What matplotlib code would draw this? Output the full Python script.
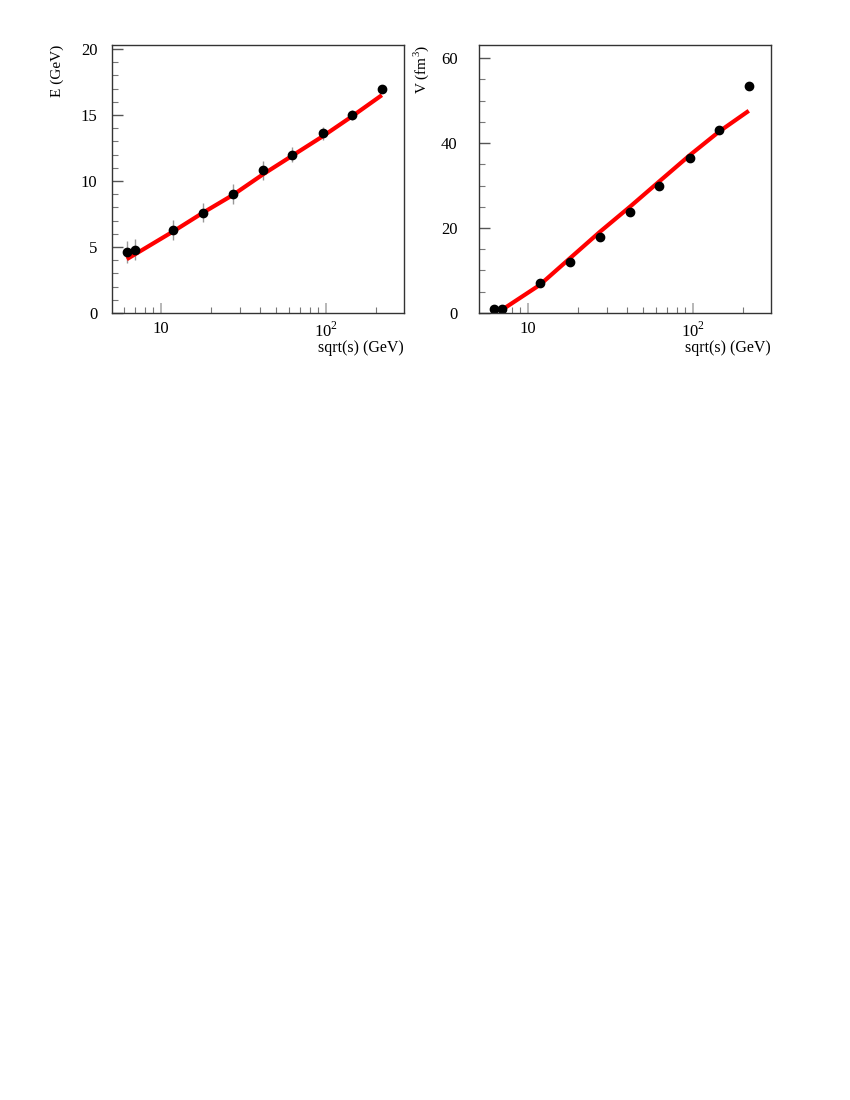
import numpy as np
import matplotlib
matplotlib.use('Agg')
import matplotlib.pyplot as plt
from matplotlib.ticker import FixedLocator, NullFormatter, FixedFormatter

plt.rcParams['font.family'] = ['Liberation Serif', 'DejaVu Serif']
plt.rcParams['mathtext.fontset'] = 'custom'
plt.rcParams['mathtext.rm'] = 'Liberation Serif'

# collision energies (GeV)
sqrts = [6.2, 7.0, 11.8, 18.0, 27.3, 41.5, 62.2, 96.0, 144.0, 218.0]

# left panel: energy
E_vals = [4.6, 4.8, 6.3, 7.6, 9.0, 10.8, 12.0, 13.6, 15.0, 17.0]
E_errs = [0.85, 0.8, 0.75, 0.7, 0.75, 0.7, 0.6, 0.5, 0.4, 0.2]
E_fit_x = [6.2, 11.8, 18.0, 27.3, 41.5, 62.2, 96.0, 144.0, 218.0]
E_fit_y = [4.07, 6.16, 7.6, 8.94, 10.5, 11.9, 13.4, 14.9, 16.5]

# right panel: volume
V_vals = [1.0, 1.0, 7.0, 11.9, 18.0, 23.8, 29.9, 36.6, 43.0, 53.4]
V_fit_x = [6.4, 7.0, 11.8, 18.0, 27.3, 41.5, 62.2, 96.0, 144.0, 218.0]
V_fit_y = [0.7, 0.8, 6.6, 12.9, 19.1, 25.0, 30.9, 37.2, 42.7, 47.6]

fig = plt.figure(figsize=(8.5, 11), dpi=100)
ax1 = fig.add_axes([0.1318, 0.7155, 0.3435, 0.2436])
ax2 = fig.add_axes([0.5635, 0.7155, 0.3435, 0.2436])

def style(ax, ymax, ymaj, ymin, ypad):
    ax.set_xscale('log')
    ax.set_xlim(5.05, 297)
    ax.set_ylim(0, ymax)
    ax.xaxis.set_major_locator(FixedLocator([10, 100]))
    ax.xaxis.set_major_formatter(FixedFormatter(['10', r'$10^2$']))
    minors = [6, 7, 8, 9, 20, 30, 40, 50, 60, 70, 80, 90, 200]
    ax.xaxis.set_minor_locator(FixedLocator(minors))
    ax.xaxis.set_minor_formatter(NullFormatter())
    ax.yaxis.set_major_locator(FixedLocator(ymaj))
    ax.yaxis.set_minor_locator(FixedLocator(ymin))
    ax.tick_params(which='both', direction='in', labelsize=12,
                   top=False, right=False)
    ax.tick_params(axis='y', which='major', length=8, width=1, color='#555555', pad=ypad)
    ax.tick_params(axis='y', which='minor', length=4.3, width=0.8, color='#777777')
    ax.tick_params(axis='x', which='major', length=7.5, width=1.2, color='#aaaaaa', pad=6)
    ax.tick_params(axis='x', which='minor', length=4, width=0.8, color='#777777')
    for s in ax.spines.values():
        s.set_color('#333333')
        s.set_linewidth(1)

style(ax1, 20.3, [0, 5, 10, 15, 20], np.arange(0, 20.5, 1), 10.5)
style(ax2, 63.1, [0, 20, 40, 60], np.arange(0, 63, 5), 15.5)

ax1.errorbar(sqrts, E_vals, yerr=E_errs, fmt='none', ecolor='#999999', elinewidth=1)
ax1.plot(E_fit_x, E_fit_y, color='red', lw=3, solid_capstyle='butt')
ax1.plot(sqrts, E_vals, 'o', color='black', ms=6)

ax2.plot(V_fit_x, V_fit_y, color='red', lw=3, solid_capstyle='butt')
ax2.plot(sqrts, V_vals, 'o', color='black', ms=6)

ax1.set_ylabel('E (GeV)', fontsize=11, loc='top')
ax2.set_ylabel(r'V (fm$^3$)', fontsize=11, loc='top')
for ax in (ax1, ax2):
    ax.yaxis.set_label_coords(-0.165, 1.0)
    ax.set_xlabel('sqrt(s) (GeV)', fontsize=11.5, loc='right')
    ax.xaxis.set_label_coords(1.0, -0.1)

fig.savefig('out.png', dpi=100)
